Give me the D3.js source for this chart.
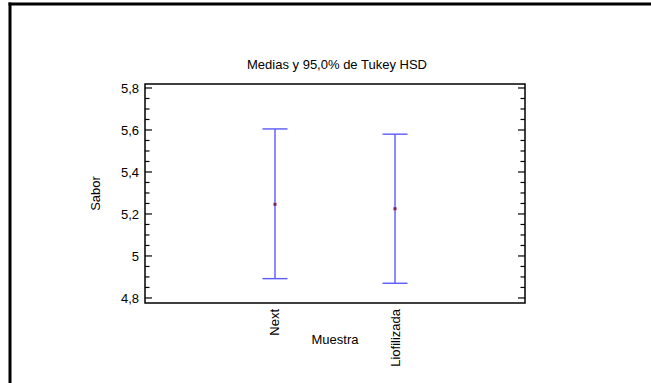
<!DOCTYPE html>
<html>
<head>
<meta charset="utf-8">
<script src="https://cdn.jsdelivr.net/npm/d3@7"></script>
<style>
  html, body { margin: 0; padding: 0; background: #fff; overflow: hidden; }
  svg { display: block; }
  text { font-family: "Liberation Sans", Arial, sans-serif; fill: #000; }
</style>
</head>
<body>
<svg id="chart" width="651" height="383"></svg>
<script>
// data
const categories = ["Next", "Liofilizada"];
const means = [5.246, 5.225];
const lower = [4.892, 4.870];
const upper = [5.605, 5.580];
const yTicks = [4.8, 5.0, 5.2, 5.4, 5.6, 5.8];
const yTickLabels = ["4,8", "5", "5,2", "5,4", "5,6", "5,8"];
const yMinorTicks = d3.range(4.8, 5.8001, 0.05);

const svg = d3.select("#chart");
const fontSize = "13px";

// outer frame: only top and left edges show in the picture
svg.append("line")
   .attr("x1", 10).attr("y1", 2.5).attr("x2", 10).attr("y2", 383)
   .attr("stroke", "#000").attr("stroke-width", 3);
svg.append("line")
   .attr("x1", 8.5).attr("y1", 4).attr("x2", 651).attr("y2", 4)
   .attr("stroke", "#000").attr("stroke-width", 3);

const boxLeft = 145, boxRight = 525, boxTop = 84, boxBottom = 303;

const x = d3.scalePoint()
            .domain(categories)
            .range([boxLeft, boxRight])
            .padding(1.083);
const y = d3.scaleLinear()
            .domain([4.776, 5.819])
            .range([boxBottom, boxTop]);

// title
svg.append("text")
   .attr("x", 337).attr("y", 69)
   .attr("text-anchor", "middle")
   .style("font-size", fontSize)
   .text("Medias y 95,0% de Tukey HSD");

// minor + major ticks, left and right, pointing inward
const isMajor = v => yTicks.some(t => Math.abs(t - v) < 1e-6);
const tickG = svg.append("g");
yMinorTicks.forEach(v => {
  const len = isMajor(v) ? 7 : 4.5;
  tickG.append("line")
       .attr("x1", boxLeft).attr("x2", boxLeft + len)
       .attr("y1", y(v)).attr("y2", y(v))
       .attr("stroke", "#000").attr("stroke-width", 1.2);
  tickG.append("line")
       .attr("x1", boxRight).attr("x2", boxRight - len)
       .attr("y1", y(v)).attr("y2", y(v))
       .attr("stroke", "#000").attr("stroke-width", 1.2);
});

// y tick labels
svg.append("g").selectAll("text")
   .data(yTicks)
   .enter()
   .append("text")
   .attr("x", boxLeft - 6)
   .attr("y", d => y(d))
   .attr("dy", "0.35em")
   .attr("text-anchor", "end")
   .style("font-size", fontSize)
   .text((d, i) => yTickLabels[i]);

// plot box
svg.append("rect")
   .attr("x", boxLeft).attr("y", boxTop)
   .attr("width", boxRight - boxLeft).attr("height", boxBottom - boxTop)
   .attr("fill", "none").attr("stroke", "#000").attr("stroke-width", 1.5);

// error bars
const bars = svg.append("g");
categories.forEach((c, i) => {
  const cx = x(c);
  bars.append("line")
      .attr("x1", cx).attr("x2", cx)
      .attr("y1", y(upper[i])).attr("y2", y(lower[i]))
      .attr("stroke", "#5a5aff").attr("stroke-width", 1.4);
  [upper[i], lower[i]].forEach(v => {
    bars.append("line")
        .attr("x1", cx - 12.5).attr("x2", cx + 12.5)
        .attr("y1", y(v)).attr("y2", y(v))
        .attr("stroke", "#5a5aff").attr("stroke-width", 1.4);
  });
  bars.append("rect")
      .attr("x", cx - 1.5).attr("y", y(means[i]) - 1.5)
      .attr("width", 3).attr("height", 3)
      .attr("fill", "#80205a");
});

// x category labels, rotated
svg.append("g").selectAll("text")
   .data(categories)
   .enter()
   .append("text")
   .attr("transform", d => "translate(" + (x(d) + 4.5) + "," + (boxBottom + 6) + ") rotate(-90)")
   .attr("text-anchor", "end")
   .style("font-size", fontSize)
   .text(d => d);

// axis titles
svg.append("text")
   .attr("x", (boxLeft + boxRight) / 2).attr("y", 344)
   .attr("text-anchor", "middle")
   .style("font-size", fontSize)
   .text("Muestra");

svg.append("text")
   .attr("transform", "translate(100," + ((boxTop + boxBottom) / 2) + ") rotate(-90)")
   .attr("text-anchor", "middle")
   .style("font-size", fontSize)
   .text("Sabor");
</script>
</body>
</html>
